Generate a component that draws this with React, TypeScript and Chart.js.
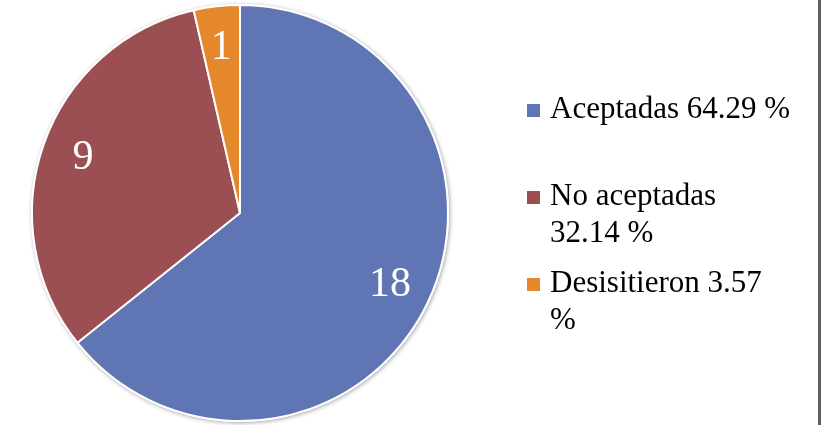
import React, { useEffect, useRef } from "react";
import { Chart, registerables } from "chart.js";

Chart.register(...registerables);

const categories = ["Aceptadas", "No aceptadas", "Desisitieron"];
const counts = [18, 9, 1];
const colors = ["#6075B3", "#9B4F52", "#E5872B"];
// legend text split into lines as it wraps in the reference
const legendLines = [
  ["Aceptadas 64.29 %"],
  ["No aceptadas", "32.14 %"],
  ["Desisitieron 3.57", "%"],
];
const legendTops = [89, 176, 263];

const FONT = '"Liberation Serif", "Times New Roman", serif';

const labelPlugin = {
  id: "sliceLabels",
  beforeDatasetsDraw(chart: any) {
    const meta = chart.getDatasetMeta(0);
    const a = meta.data[0];
    if (!a) return;
    const ctx = chart.ctx;
    ctx.save();
    ctx.shadowColor = "rgba(0,0,0,0.35)";
    ctx.shadowBlur = 4;
    ctx.shadowOffsetX = 1;
    ctx.shadowOffsetY = 1;
    ctx.fillStyle = "#ffffff";
    ctx.beginPath();
    ctx.arc(a.x, a.y, a.outerRadius + 1, 0, Math.PI * 2);
    ctx.fill();
    ctx.restore();
  },
  afterDatasetsDraw(chart: any) {
    const meta = chart.getDatasetMeta(0);
    const ctx = chart.ctx;
    ctx.save();
    ctx.fillStyle = "#ffffff";
    ctx.font = `42px ${FONT}`;
    ctx.textAlign = "center";
    ctx.textBaseline = "middle";
    meta.data.forEach((arc: any, i: number) => {
      const mid = (arc.startAngle + arc.endAngle) / 2;
      const r = arc.outerRadius * 0.8;
      const x = arc.x + Math.cos(mid) * r;
      const y = arc.y + Math.sin(mid) * r;
      ctx.fillText(String(counts[i]), x, y);
    });
    ctx.restore();
  },
};

export default function App() {
  const ref = useRef<HTMLCanvasElement | null>(null);
  useEffect(() => {
    document.body.style.margin = "0";
    const chart = new Chart(ref.current as HTMLCanvasElement, {
      type: "pie",
      data: {
        labels: categories,
        datasets: [
          {
            data: counts,
            backgroundColor: colors,
            borderColor: "#ffffff",
            borderWidth: 2,
          },
        ],
      },
      options: {
        responsive: false,
        animation: false,
        layout: { padding: { left: 31, right: 372, top: 4, bottom: 3 } },
        plugins: {
          legend: { display: false },
          tooltip: { enabled: false },
        },
      },
      plugins: [labelPlugin],
    });
    return () => chart.destroy();
  }, []);

  return (
    <div style={{ position: "relative", width: 821, height: 425, background: "#fff", overflow: "hidden" }}>
      <canvas ref={ref} width={821} height={425} style={{ position: "absolute", left: 0, top: 0 }} />
      {legendLines.map((lines, i) => (
        <div
          key={categories[i]}
          style={{
            position: "absolute",
            left: 527,
            top: legendTops[i],
            display: "flex",
            alignItems: "flex-start",
            fontFamily: FONT,
            fontSize: 31,
            lineHeight: "37px",
            color: "#000",
            whiteSpace: "nowrap",
          }}
        >
          <span
            style={{
              display: "inline-block",
              width: 13,
              height: 13,
              marginTop: 15,
              marginRight: 10,
              background: colors[i],
            }}
          />
          <div>
            {lines.map((l, j) => (
              <div key={j}>{l}</div>
            ))}
          </div>
        </div>
      ))}
      <div style={{ position: "absolute", left: 818, top: 0, width: 3, height: 425, background: "#5A6266" }} />
    </div>
  );
}
